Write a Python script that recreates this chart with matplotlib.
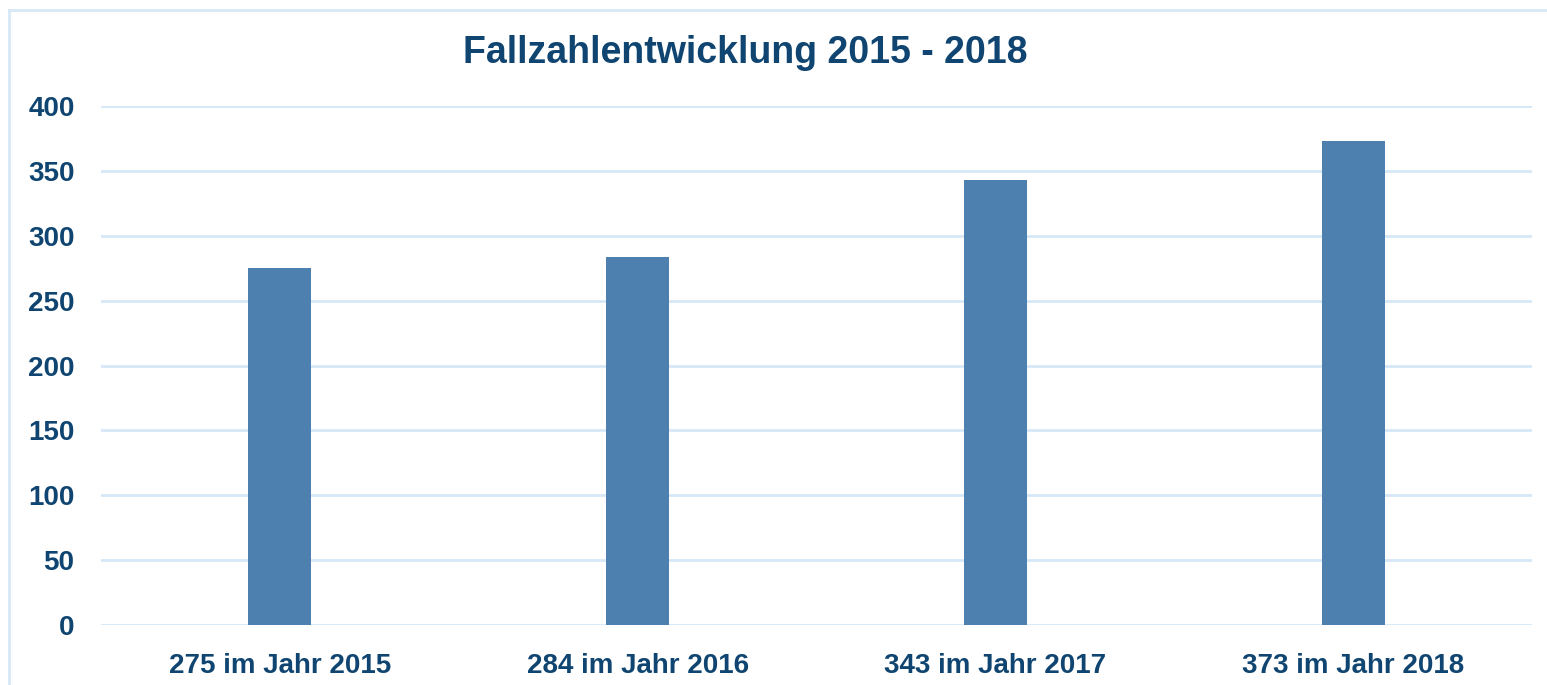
import matplotlib
matplotlib.use("Agg")
import matplotlib.pyplot as plt
from matplotlib.lines import Line2D

categories = ['275 im Jahr 2015', '284 im Jahr 2016', '343 im Jahr 2017', '373 im Jahr 2018']
values = [275, 284, 343, 373]
yticks = [0, 50, 100, 150, 200, 250, 300, 350, 400]

text_color = '#0F4570'
bar_color = '#4D7FAF'
grid_color = '#D6E8F7'

plt.rcParams['font.family'] = ['Liberation Sans', 'DejaVu Sans']
plt.rcParams['font.weight'] = 'bold'

fig = plt.figure(figsize=(15.47, 6.85), dpi=100)
ax = fig.add_axes([101 / 1547, 1 - 625 / 685, (1532 - 101) / 1547, (625 - 106) / 685])

x = range(len(categories))
ax.bar(x, values, width=0.176, color=bar_color, zorder=3)

ax.set_xlim(-0.5, len(categories) - 0.5)
ax.set_ylim(0, 400)
ax.set_yticks(yticks)
ax.set_xticks(list(x))
ax.set_xticklabels(categories)

ax.yaxis.grid(True, color=grid_color, linewidth=2, zorder=0)
ax.set_axisbelow(True)
for s in ax.spines.values():
    s.set_visible(False)
ax.tick_params(axis='both', length=0, labelsize=20, labelcolor=text_color)
ax.tick_params(axis='y', pad=19)
ax.tick_params(axis='x', pad=20)
for lbl in ax.get_xticklabels() + ax.get_yticklabels():
    lbl.set_fontweight('bold')

fig.text(745 / 1547, 1 - 53 / 685, 'Fallzahlentwicklung 2015 - 2018', ha='center', va='center',
         fontsize=27, fontweight='bold', color=text_color)

# light frame around the chart area
fig.add_artist(Line2D([9 / 1547, 9 / 1547], [0, 1 - 10 / 685], transform=fig.transFigure,
                      color=grid_color, linewidth=2))
fig.add_artist(Line2D([9 / 1547, 1], [1 - 10 / 685, 1 - 10 / 685], transform=fig.transFigure,
                      color=grid_color, linewidth=2))

fig.savefig('out.png', dpi=100)
